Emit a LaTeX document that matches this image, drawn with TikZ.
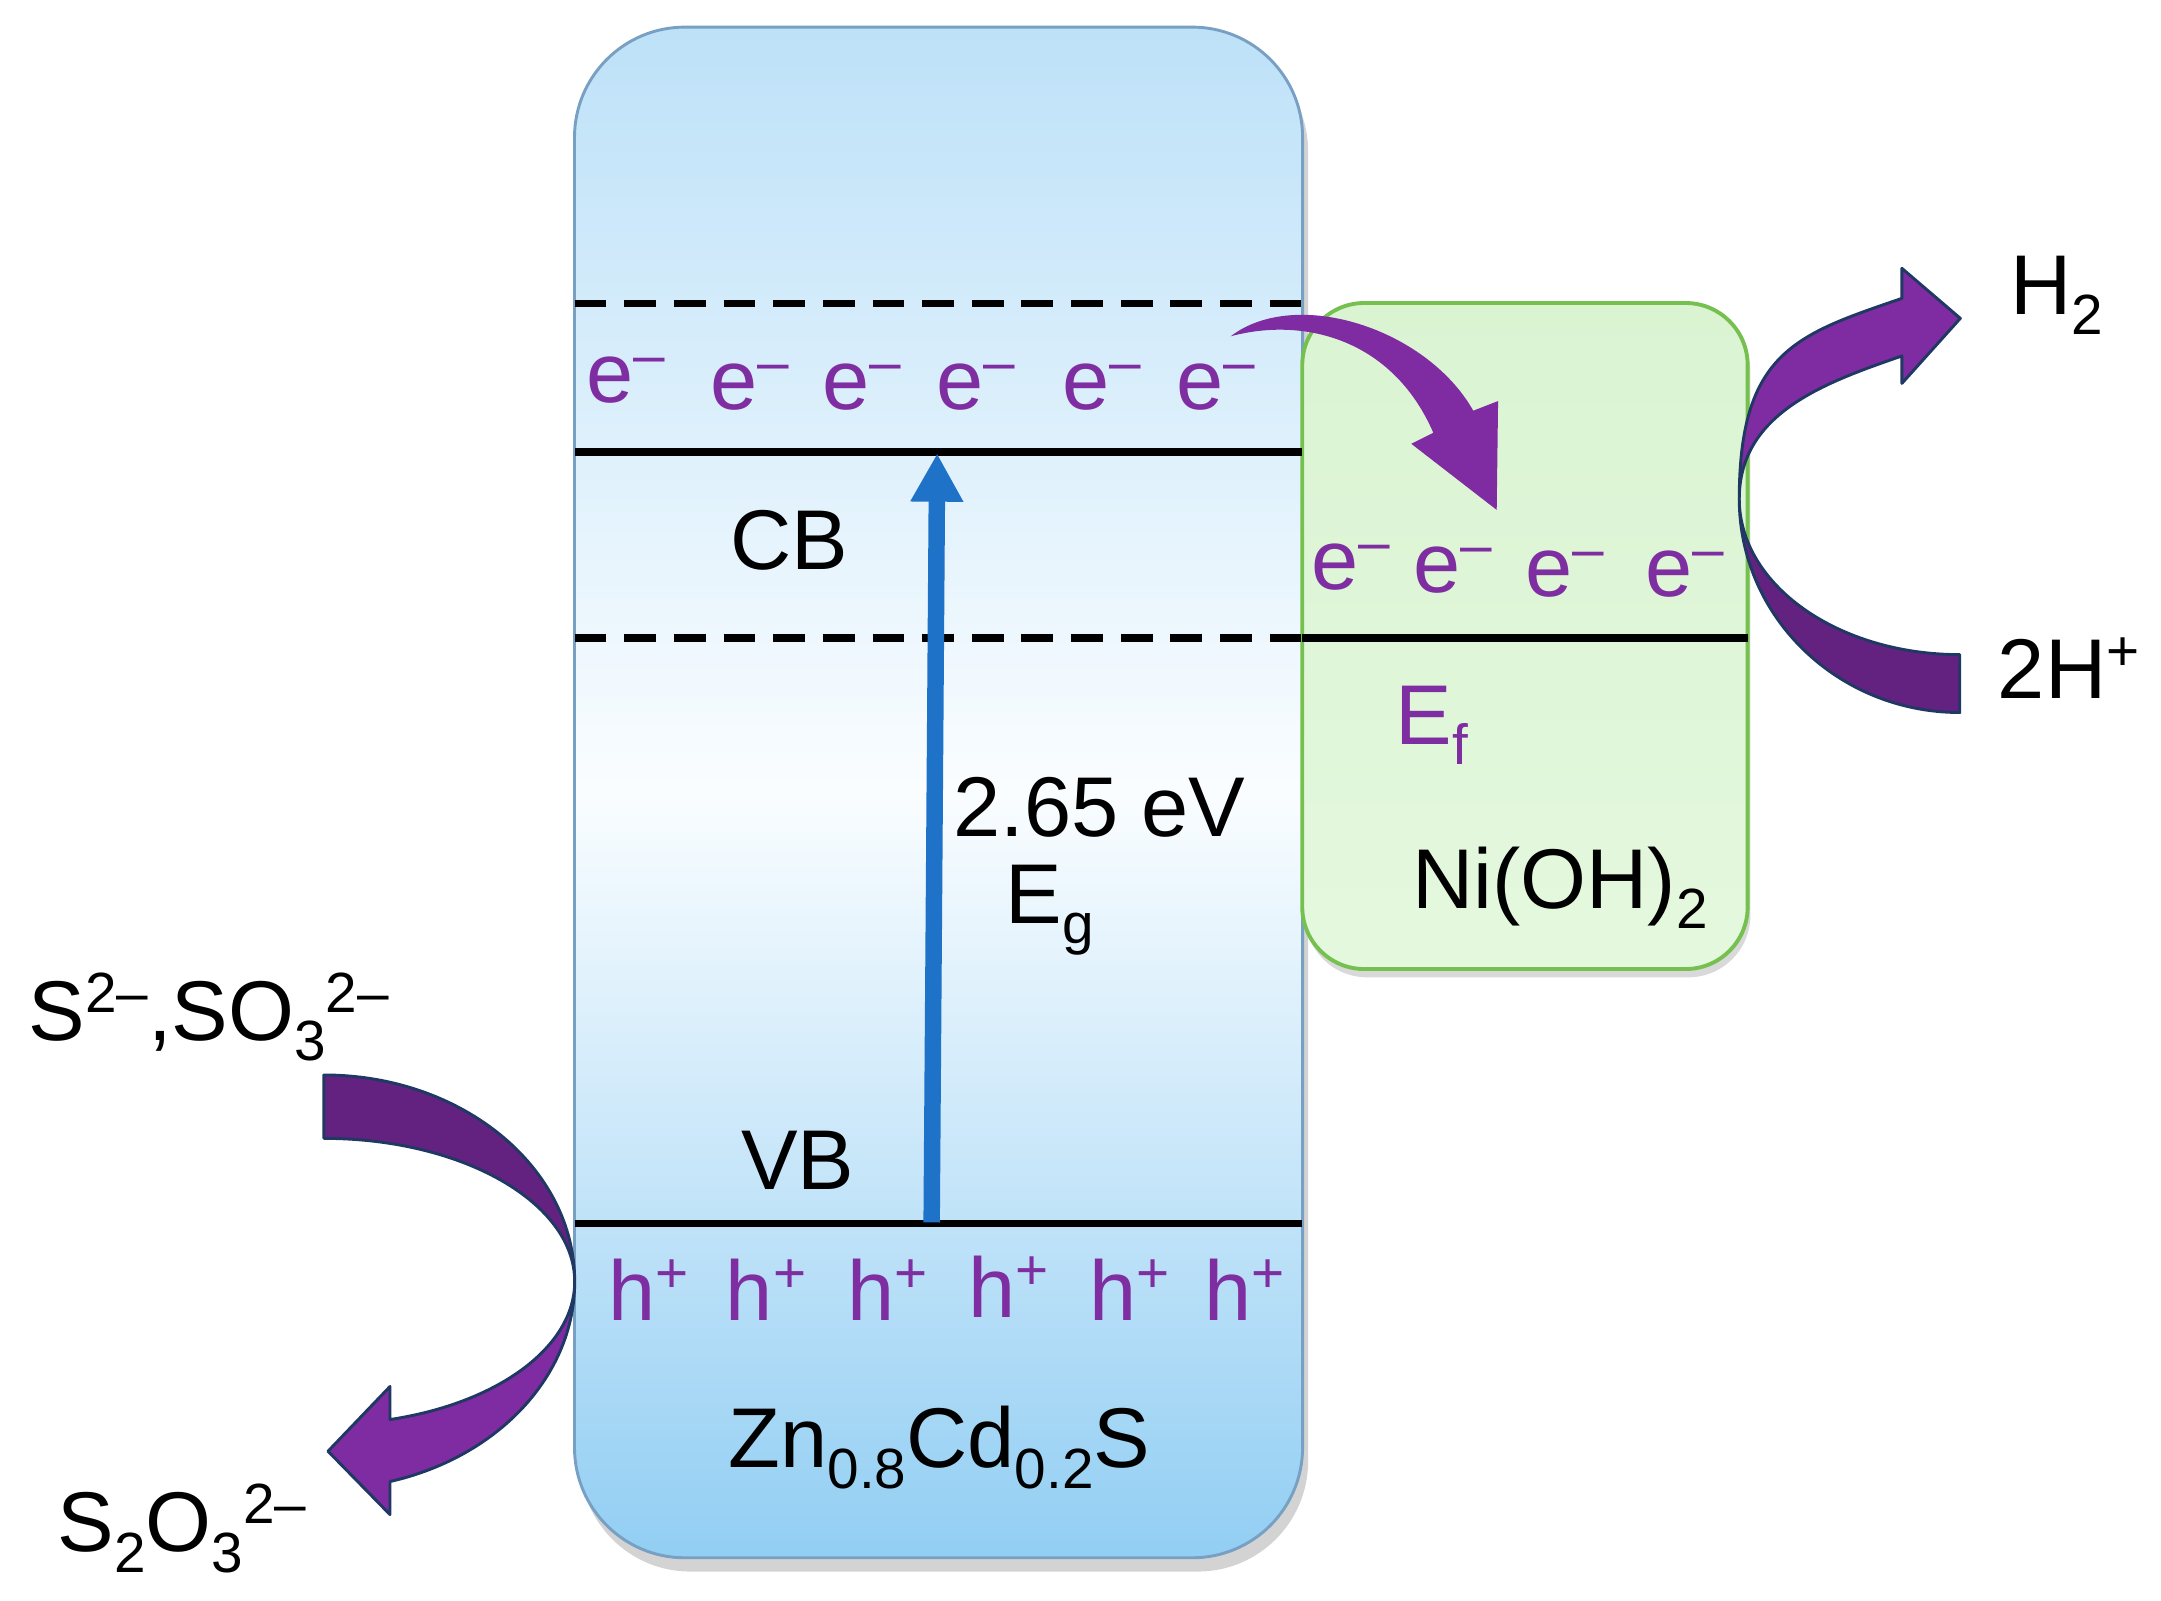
\documentclass[tikz,border=0pt]{standalone}
\usepackage{fontspec}
\setmainfont{Liberation Sans}
\usetikzlibrary{arrows.meta,shadows}
\definecolor{bdPurple}{RGB}{126,46,160}
\definecolor{bdArrowDark}{RGB}{100,34,128}
\definecolor{bdArrowLight}{RGB}{127,43,161}
\definecolor{bdArrowEdge}{RGB}{31,56,100}
\definecolor{bdBlueTop}{RGB}{189,225,248}
\definecolor{bdBlueMid}{RGB}{250,253,255}
\definecolor{bdBlueBot}{RGB}{146,206,243}
\definecolor{bdBlueEdge}{RGB}{120,160,195}
\definecolor{bdGreenTop}{RGB}{218,244,210}
\definecolor{bdGreenBot}{RGB}{228,248,222}
\definecolor{bdGreenEdge}{RGB}{118,192,80}
\definecolor{bdGapBlue}{RGB}{30,115,200}
\newcommand{\chsub}[1]{\raisebox{-0.24em}{\fontsize{11.7}{14}\selectfont #1}}
\newcommand{\chsup}[1]{\raisebox{0.33em}{\fontsize{11.7}{14}\selectfont #1}}
\newcommand{\eMinus}{e\chsup{\textendash}}
\newcommand{\hPlus}{h\chsup{+}}
\begin{document}
\begin{tikzpicture}[x=0.01cm,y=-0.01cm]
\tikzset{
    bdBox/.style={rectangle,rounded corners=0.8cm,minimum width=5.28cm,minimum height=11.1cm,draw=bdBlueEdge,line width=0.6pt,top color=bdBlueTop,bottom color=bdBlueBot,middle color=bdBlueMid,drop shadow={shadow xshift=0.04cm,shadow yshift=-0.1cm,opacity=0.35}},
    bdCocat/.style={rectangle,rounded corners=0.45cm,minimum width=3.23cm,minimum height=4.83cm,draw=bdGreenEdge,line width=0.8pt,top color=bdGreenTop,bottom color=bdGreenBot,drop shadow={shadow xshift=0.02cm,shadow yshift=-0.06cm,opacity=0.3}},
    bdLevel/.style={line width=1.5pt},
    bdDash/.style={bdLevel,dash pattern=on 0.23cm off 0.13cm},
    bdText/.style={font=\fontsize{17.5}{21}\selectfont,inner sep=0pt,anchor=base west},
    bdCarrier/.style={bdText,text=bdPurple},
    bdGap/.style={line width=3.4pt,draw=bdGapBlue,-{Triangle[length=0.35cm,width=0.36cm]}},
    bdBendDark/.style={fill=bdArrowDark,draw=bdArrowEdge,line width=0.6pt,line join=round},
    bdBendLight/.style={fill=bdArrowLight,draw=bdArrowEdge,line width=0.6pt,line join=round},
}
\useasboundingbox (0,0) rectangle (1568,1161);

\node[bdBox] (zcs) at (681,575) {};
\node[bdCocat] (nioh) at (1106.5,461.5) {};

\draw[bdDash] (417,220) -- (945,220);
\draw[bdLevel] (417,328) -- (945,328);
\draw[bdDash] (417,463) -- (945,463);
\draw[bdLevel] (945,463) -- (1268,463);
\draw[bdLevel] (417,888) -- (945,888);

\coordinate (vbFoot) at (676,887);
\coordinate (cbHead) at (680,329);
\draw[bdGap] (vbFoot) -- (cbHead);

\fill[bdArrowLight] (893,244) .. controls (940,208) and (1035,238) .. (1069,298) -- (1087,291) -- (1086,370) -- (1024,322) -- (1040,314) .. controls (1010,245) and (945,230) .. (893,244) -- cycle;

\node[bdCarrier] (e1) at (425,292) {\eMinus};
\node[bdCarrier] (e2) at (515,297) {\eMinus};
\node[bdCarrier] (e3) at (596,297) {\eMinus};
\node[bdCarrier] (e4) at (679,297) {\eMinus};
\node[bdCarrier] (e5) at (770,297) {\eMinus};
\node[bdCarrier] (e6) at (853,297) {\eMinus};

\node[bdCarrier] (n1) at (951,428) {\eMinus};
\node[bdCarrier] (n2) at (1025,430) {\eMinus};
\node[bdCarrier] (n3) at (1106,433) {\eMinus};
\node[bdCarrier] (n4) at (1193,433) {\eMinus};

\node[bdCarrier] (h1) at (441,958) {\hPlus};
\node[bdCarrier] (h2) at (526,958) {\hPlus};
\node[bdCarrier] (h3) at (614,958) {\hPlus};
\node[bdCarrier] (h4) at (702,956) {\hPlus};
\node[bdCarrier] (h5) at (790,958) {\hPlus};
\node[bdCarrier] (h6) at (873,958) {\hPlus};

\node[bdText] (cb) at (529,413) {CB};
\node[bdText] (vb) at (537,863) {VB};
\node[bdText] (gap) at (691,607) {2.65 eV};
\node[bdText] (eg) at (729,670) {E\chsub{g}};
\node[bdCarrier] (ef) at (1012,540) {E\chsub{f}};
\node[bdText] (nilabel) at (1024,659) {Ni(OH)\chsub{2}};
\node[bdText] (zcslabel) at (528,1065) {Zn\chsub{0.8}Cd\chsub{0.2}S};

\node[bdText] (donor) at (20,755) {S\chsup{2\textendash},SO\chsub{3}\chsup{2\textendash}};
\node[bdText] (thio) at (41,1126) {S\chsub{2}O\chsub{3}\chsup{2\textendash}};
\node[bdText] (hydro) at (1458,228) {H\chsub{2}};
\node[bdText] (proton) at (1449,507) {2H\chsup{+}};

\path[bdBendDark] (235,780) .. controls (335.5,780) and (417,847.2) .. (417,930) .. controls (417,872.6) and (335.5,826) .. (235,826) -- cycle;
\path[bdBendLight] (417,930) .. controls (417,997.6) and (362,1057) .. (283,1075) -- (283,1099) -- (238,1053) -- (283,1006) -- (283,1030) .. controls (362,1018) and (417,977) .. (417,930) -- cycle;

\path[bdBendDark] (1422,517) .. controls (1333.6,517) and (1262,447.6) .. (1262,362) .. controls (1262,424.4) and (1333.6,475) .. (1422,475) -- cycle;
\path[bdBendLight] (1262,362) .. controls (1262,255) and (1304,242.6) .. (1380,216.5) -- (1380,194.7) -- (1422.4,231) -- (1380,278.2) -- (1380,258.3) .. controls (1323.2,277.9) and (1262,300) .. (1262,362) -- cycle;
\end{tikzpicture}
\end{document}
